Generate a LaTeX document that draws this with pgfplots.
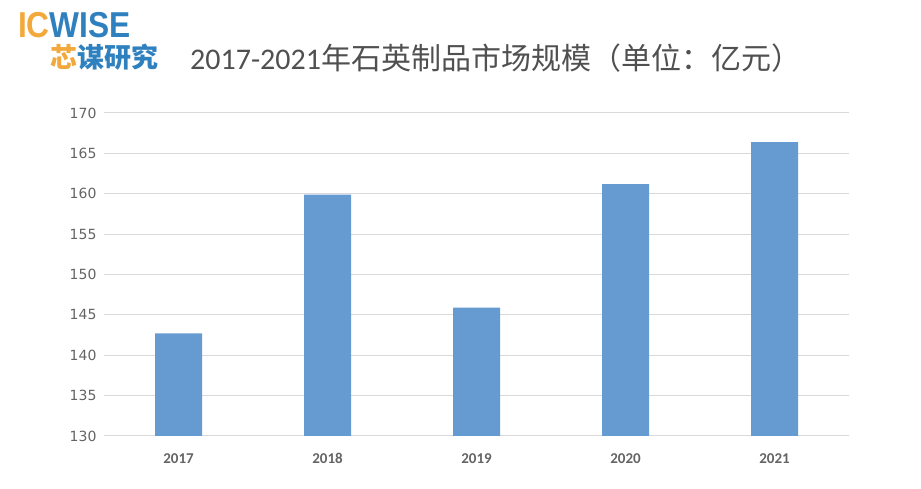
\documentclass[border=0pt]{standalone}
\usepackage{fontspec}
\usepackage{pgfplots}
\pgfplotsset{compat=1.18}
\setmainfont{Carlito}
\newfontfamily\cjk{Noto Sans CJK SC}
\newfontfamily\dejavu{DejaVu Sans}
\newfontfamily\logofont{Liberation Sans}
\newfontfamily\carlito{Carlito}
\definecolor{barblue}{RGB}{102,155,210}
\definecolor{gridgray}{RGB}{217,217,217}
\definecolor{ticktext}{RGB}{100,100,100}
\definecolor{titletext}{RGB}{80,80,80}
\definecolor{logoorange}{RGB}{242,168,58}
\definecolor{logoblue}{RGB}{46,128,190}
\begin{document}
\begin{tikzpicture}[x=1pt,y=1pt]
\path[use as bounding box] (0,0) rectangle (921,489);
% logo
\node[anchor=base west, inner sep=0, xscale=0.88] at (18,451)
  {\fontsize{36}{36}\selectfont\logofont\bfseries\textcolor{logoorange}{IC}\textcolor{logoblue}{WISE}};
\node[anchor=base west, inner sep=0] at (50,421)
  {\fontsize{27}{27}\selectfont\cjk\bfseries\textcolor{logoorange}{芯}\textcolor{logoblue}{谋研究}};
% title
\node[anchor=base west, inner sep=0, text=titletext] at (190,419)
  {\fontsize{30}{30}\selectfont\carlito 2017-2021\cjk 年石英制品市场规模（单位：亿元）};
\begin{axis}[
  at={(104pt,53pt)}, anchor=south west,
  scale only axis, width=745pt, height=323pt,
  ymin=130, ymax=170, ytick distance=5,
  xmin=-0.5, xmax=4.5,
  xtick={0,1,2,3,4},
  xticklabels={2017,2018,2019,2020,2021},
  ymajorgrids, grid style={gridgray, line width=1pt},
  axis line style={draw=none},
  major tick style={draw=none},
  /pgf/number format/assume math mode=true,
  yticklabel style={font=\fontsize{14}{14}\selectfont\dejavu, text=ticktext, xshift=-4pt},
  xticklabel style={font=\fontsize{15}{15}\selectfont\carlito\bfseries, text=ticktext, text height=10pt, text depth=0pt, yshift=-10pt},
  ybar, bar width=47pt,
]
\addplot[fill=barblue, draw=none] coordinates {(0,142.7) (1,159.9) (2,145.9) (3,161.2) (4,166.4)};
\end{axis}
\end{tikzpicture}
\end{document}
